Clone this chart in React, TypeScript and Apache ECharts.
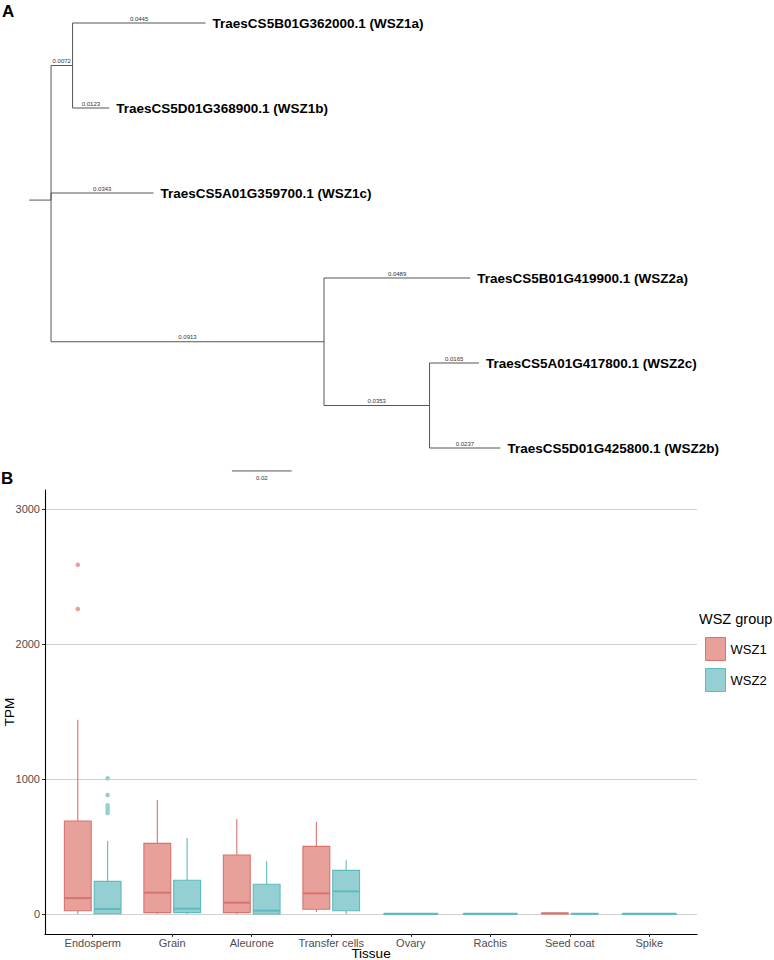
import React, { useEffect, useRef } from 'react';
import * as echarts from 'echarts';

const FONT = '"Liberation Sans", Arial, Helvetica, sans-serif';

// ---------- Panel A: phylogenetic tree ----------
const tipLabels = [
  'TraesCS5B01G362000.1 (WSZ1a)',
  'TraesCS5D01G368900.1 (WSZ1b)',
  'TraesCS5A01G359700.1 (WSZ1c)',
  'TraesCS5B01G419900.1 (WSZ2a)',
  'TraesCS5A01G417800.1 (WSZ2c)',
  'TraesCS5D01G425800.1 (WSZ2b)',
];
// node ids: 0-5 tips, 6 root, 7 WSZ1a/b clade, 8 WSZ2 clade, 9 WSZ2c/b clade
const rootNode = 6;
const edgeParents = [6, 7, 7, 6, 6, 8, 8, 9, 9];
const edgeChildren = [7, 0, 1, 2, 8, 3, 9, 4, 5];
const edgeLengths = [0.0072, 0.0445, 0.0123, 0.0343, 0.0913, 0.0489, 0.0353, 0.0165, 0.0237];
const edgeLabels = ['0.0072', '0.0445', '0.0123', '0.0343', '0.0913', '0.0489', '0.0353', '0.0165', '0.0237'];
const rootEdgeLength = 0.0073;
const scaleBarLength = 0.02;
const scaleBarLabel = '0.02';

// ---------- Panel B: TPM box plots ----------
const tissues = ['Endosperm', 'Grain', 'Aleurone', 'Transfer cells', 'Ovary', 'Rachis', 'Seed coat', 'Spike'];
const groups = ['WSZ1', 'WSZ2'];
const xAxisTitle = 'Tissue';
const yAxisTitle = 'TPM';
// [lower whisker, Q1, median, Q3, upper whisker]; null = no data
const wsz1Stats = [
  [0, 24, 118, 689, 1440],
  [0, 10, 158, 523, 844],
  [0, 10, 84, 437, 704],
  [15, 35, 153, 501, 684],
  null,
  null,
  [2, 4, 5, 6, 8],
  null,
];
const wsz2Stats = [
  [0, 2, 37, 242, 541],
  [0, 10, 40, 250, 563],
  [0, 0, 25, 220, 390],
  [0, 24, 168, 323, 398],
  [0, 1, 2, 3, 5],
  [0, 1, 2, 3, 5],
  [0, 1, 2, 3, 4],
  [0, 1, 2, 3, 5],
];
const wsz1Outliers = [[2587, 2259], [], [], [], [], [], [], []];
const wsz2Outliers = [[1005, 881, 805, 785, 765, 748], [], [], [], [], [], [], []];
const yTicks = [0, 1000, 2000, 3000];

const COLORS = {
  wsz1Fill: '#E8A09A',
  wsz1Line: '#D8736D',
  wsz2Fill: '#94D0D3',
  wsz2Line: '#5DBBBF',
  tree: '#555555',
};

// tree layout from topology + branch lengths
const nodeCount = 10;
const nodeX: number[] = new Array(nodeCount).fill(0);
const nodeY: number[] = new Array(nodeCount).fill(0);
function layoutX(n: number, x: number) {
  nodeX[n] = x;
  edgeParents.forEach((p, e) => {
    if (p === n) layoutX(edgeChildren[e], x + edgeLengths[e]);
  });
}
function layoutY(n: number): number {
  if (n < tipLabels.length) {
    nodeY[n] = n;
    return n;
  }
  const ys: number[] = [];
  edgeParents.forEach((p, e) => {
    if (p === n) ys.push(layoutY(edgeChildren[e]));
  });
  nodeY[n] = ys.reduce((a, b) => a + b, 0) / ys.length;
  return nodeY[n];
}
layoutX(rootNode, 0);
layoutY(rootNode);

function buildOption() {
  const treeData: number[][] = edgeParents.map((p, e) => [nodeX[p], nodeY[p], nodeX[edgeChildren[e]], nodeY[edgeChildren[e]]]);
  treeData.push([-rootEdgeLength, nodeY[rootNode], 0, nodeY[rootNode]]);

  const treeSeries = {
    type: 'custom',
    name: 'tree',
    xAxisIndex: 1,
    yAxisIndex: 1,
    silent: true,
    data: treeData,
    renderItem: (params: any, api: any) => {
      const e = params.dataIndex;
      const a = api.coord([api.value(0), api.value(1)]);
      const b = api.coord([api.value(0), api.value(3)]);
      const c = api.coord([api.value(2), api.value(3)]);
      const children: any[] = [
        {
          type: 'polyline',
          shape: { points: [a, b, c] },
          style: { stroke: COLORS.tree, lineWidth: 1, fill: 'none' },
        },
      ];
      if (e < edgeLabels.length) {
        children.push({
          type: 'text',
          style: {
            text: edgeLabels[e],
            x: (b[0] + c[0]) / 2,
            y: c[1] - 1.5,
            fill: '#333',
            font: `6px ${FONT}`,
            align: 'center',
            textAlign: 'center',
            verticalAlign: 'bottom',
            textVerticalAlign: 'bottom',
          },
        });
        const child = edgeChildren[e];
        if (child < tipLabels.length) {
          children.push({
            type: 'text',
            style: {
              text: tipLabels[child],
              x: c[0] + 7,
              y: c[1] + 0.5,
              fill: '#000',
              font: `bold 13.5px ${FONT}`,
              align: 'left',
              textAlign: 'left',
              verticalAlign: 'middle',
              textVerticalAlign: 'middle',
            },
          });
        }
      }
      return { type: 'group', children };
    },
  };

  const SCALE_X = 0.0605;
  const SCALE_Y = 5.27;
  const scaleSeries = {
    type: 'custom',
    name: 'scale',
    xAxisIndex: 1,
    yAxisIndex: 1,
    silent: true,
    data: [[SCALE_X, SCALE_Y]],
    renderItem: (params: any, api: any) => {
      const a = api.coord([api.value(0), api.value(1)]);
      const b = api.coord([api.value(0) + scaleBarLength, api.value(1)]);
      return {
        type: 'group',
        children: [
          { type: 'line', shape: { x1: a[0], y1: a[1], x2: b[0], y2: b[1] }, style: { stroke: COLORS.tree, lineWidth: 1 } },
          {
            type: 'text',
            style: {
              text: scaleBarLabel,
              x: (a[0] + b[0]) / 2,
              y: a[1] + 4,
              fill: '#333',
              font: `6px ${FONT}`,
              align: 'center',
              textAlign: 'center',
              verticalAlign: 'top',
              textVerticalAlign: 'top',
            },
          },
        ],
      };
    },
  };

  const makeBoxSeries = (
    name: string,
    stats: (number[] | null)[],
    other: (number[] | null)[],
    outliers: number[][],
    fill: string,
    line: string,
    side: number
  ) => ({
    type: 'custom',
    name,
    xAxisIndex: 0,
    yAxisIndex: 0,
    silent: true,
    itemStyle: { color: fill, borderColor: line },
    data: stats.map((s, i) => (s ? [i, ...s] : null)).filter((d) => d !== null),
    renderItem: (params: any, api: any) => {
      const idx = api.value(0);
      const both = !!(stats[idx] && other[idx]);
      const unit = api.size([1, 0])[0];
      const slot = both ? 0.375 : 0.75;
      const w = slot * 0.9 * unit;
      const cx = api.coord([idx, 0])[0] + (both ? side * 0.1875 * unit : 0);
      const y = (v: number) => api.coord([idx, v])[1];
      const lo = y(api.value(1));
      const q1 = y(api.value(2));
      const med = y(api.value(3));
      const q3 = y(api.value(4));
      const hi = y(api.value(5));
      const children: any[] = [
        { type: 'line', shape: { x1: cx, y1: hi, x2: cx, y2: q3 }, style: { stroke: line, lineWidth: 1.1 } },
        { type: 'line', shape: { x1: cx, y1: q1, x2: cx, y2: lo }, style: { stroke: line, lineWidth: 1.1 } },
        {
          type: 'rect',
          shape: { x: cx - w / 2, y: q3, width: w, height: Math.max(q1 - q3, 0.5) },
          style: { fill, stroke: line, lineWidth: 1.1 },
        },
        { type: 'line', shape: { x1: cx - w / 2, y1: med, x2: cx + w / 2, y2: med }, style: { stroke: line, lineWidth: 2 } },
      ];
      (outliers[idx] || []).forEach((v) => {
        const p = y(v);
        children.push({ type: 'circle', shape: { cx, cy: p, r: 2.3 }, style: { fill, stroke: 'none' } });
      });
      return { type: 'group', children };
    },
  });

  const tickIdx = tissues.map((_, i) => i);

  return {
    animation: false,
    backgroundColor: '#ffffff',
    textStyle: { fontFamily: FONT },
    title: [
      { text: 'A', left: 2, top: 3, padding: 0, textStyle: { fontSize: 17, fontWeight: 'bold', color: '#000', fontFamily: FONT } },
      { text: 'B', left: 1, top: 470, padding: 0, textStyle: { fontSize: 17, fontWeight: 'bold', color: '#000', fontFamily: FONT } },
      { text: 'WSZ group', left: 699, top: 611, padding: 0, textStyle: { fontSize: 14.5, fontWeight: 'normal', color: '#000', fontFamily: FONT } },
    ],
    graphic: [
      {
        type: 'text',
        x: 371,
        y: 953,
        silent: true,
        style: {
          text: xAxisTitle,
          x: 0,
          y: 0,
          fill: '#000',
          font: `13.5px ${FONT}`,
          align: 'center',
          textAlign: 'center',
          verticalAlign: 'middle',
          textVerticalAlign: 'middle',
        },
      },
      {
        type: 'text',
        x: 9,
        y: 712,
        rotation: Math.PI / 2,
        silent: true,
        style: {
          text: yAxisTitle,
          x: 0,
          y: 0,
          fill: '#000',
          font: `13.5px ${FONT}`,
          align: 'center',
          textAlign: 'center',
          verticalAlign: 'middle',
          textVerticalAlign: 'middle',
        },
      },
    ],
    legend: {
      left: 705,
      top: 637,
      orient: 'vertical',
      itemWidth: 20,
      itemHeight: 23,
      itemGap: 7,
      padding: 0,
      icon: 'rect',
      selectedMode: false,
      textStyle: { fontSize: 13, color: '#000', fontFamily: FONT },
      data: [
        { name: groups[0], icon: 'rect', itemStyle: { color: COLORS.wsz1Fill, borderColor: COLORS.wsz1Line, borderWidth: 1 } },
        { name: groups[1], icon: 'rect', itemStyle: { color: COLORS.wsz2Fill, borderColor: COLORS.wsz2Line, borderWidth: 1 } },
      ],
    },
    grid: [
      { left: 45, top: 490, width: 652, height: 444, containLabel: false, outerBoundsMode: 'none' },
      { left: 28.9, top: 23, width: 620.1, height: 425, containLabel: false, outerBoundsMode: 'none' },
    ],
    xAxis: [
      {
        type: 'value',
        gridIndex: 0,
        min: -0.6,
        max: 7.6,
        axisLine: { show: true, onZero: false, lineStyle: { color: '#000', width: 1.1 } },
        axisTick: { show: true, length: 3, customValues: tickIdx, lineStyle: { color: '#333' } },
        axisLabel: {
          show: true,
          customValues: tickIdx,
          margin: 3,
          fontSize: 11,
          color: '#4D4D4D',
          fontFamily: FONT,
          formatter: (v: number) => tissues[Math.round(v)] ?? '',
        },
        splitLine: { show: false },
      },
      { type: 'value', gridIndex: 1, min: -0.0074, max: 0.2, show: false },
    ],
    yAxis: [
      {
        type: 'value',
        gridIndex: 0,
        min: -148,
        max: 3141,
        axisLine: { show: true, onZero: false, lineStyle: { color: '#000', width: 1.1 } },
        axisTick: { show: true, length: 3, customValues: yTicks, lineStyle: { color: '#333' } },
        axisLabel: {
          show: true,
          customValues: yTicks,
          margin: 5,
          fontSize: 11,
          color: '#4D4D4D',
          fontFamily: FONT,
          formatter: (v: number) => String(Math.round(v)),
        },
        splitLine: { show: true, lineStyle: { color: '#CFCFCF', width: 1 } },
      },
      { type: 'value', gridIndex: 1, min: 0, max: 5, inverse: true, show: false },
    ],
    series: [
      treeSeries,
      scaleSeries,
      makeBoxSeries(groups[0], wsz1Stats, wsz2Stats, wsz1Outliers, COLORS.wsz1Fill, COLORS.wsz1Line, -1),
      makeBoxSeries(groups[1], wsz2Stats, wsz1Stats, wsz2Outliers, COLORS.wsz2Fill, COLORS.wsz2Line, 1),
    ],
  };
}

export default function App() {
  const ref = useRef<HTMLDivElement>(null);
  useEffect(() => {
    if (!ref.current) return;
    const chart = echarts.init(ref.current, undefined, { renderer: 'svg' });
    chart.setOption(buildOption() as any);
    return () => chart.dispose();
  }, []);
  return (
    <div
      ref={ref}
      style={{ position: 'absolute', left: 0, top: 0, width: 774, height: 960, background: '#fff' }}
    />
  );
}
